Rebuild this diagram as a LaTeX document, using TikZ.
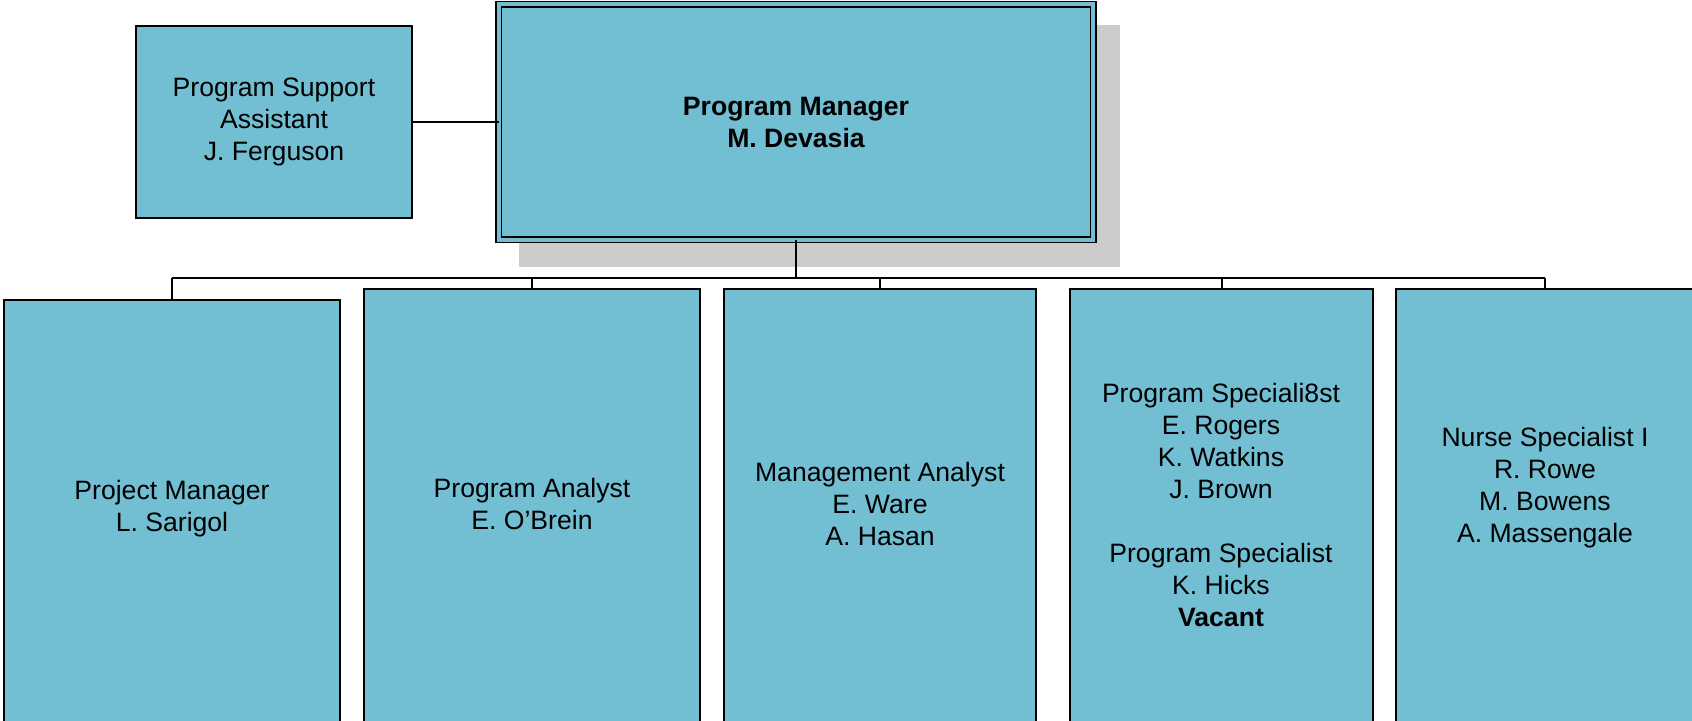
\documentclass[tikz,border=0pt]{standalone}
\usepackage{fontspec}
\setmainfont{Liberation Sans}
\definecolor{boxfill}{RGB}{114,190,211}
\definecolor{shadowgray}{RGB}{204,204,204}
\begin{document}
\begin{tikzpicture}[x=0.5pt,y=-0.5pt,
  box/.style={draw=black, line width=1pt, fill=boxfill, anchor=north west, inner sep=0pt, outer sep=0pt},
  lbl/.style={align=center, font=\fontsize{13.3}{16}\selectfont, inner sep=0pt},
  conn/.style={draw=black, line width=1pt}]
\useasboundingbox (0,0) rectangle (1692,721);
\clip (0,0) rectangle (1692,721);
% shadow of the top box
\fill[shadowgray] (519,25) rectangle (1120,267);
% top box
\node[draw=black, line width=0.9pt, double=boxfill, double distance=1.85pt, fill=boxfill,
      minimum width=297.25pt, minimum height=117.75pt, inner sep=0pt, outer sep=0pt,
      lbl, font=\fontsize{13.3}{16}\selectfont\bfseries] (pm) at (796,122) {Program Manager\\M. Devasia};
% support assistant
\node[box, anchor=center, minimum width=138pt, minimum height=96pt, lbl] (psa) at (274,122) {Program Support\\Assistant\\J. Ferguson};
% bottom boxes
\node[box, minimum width=168pt, minimum height=215pt] (b1) at (4,300) {};
\node[box, minimum width=168pt, minimum height=220pt] (b2) at (364,289) {};
\node[box, minimum width=156pt, minimum height=220pt] (b3) at (724,289) {};
\node[box, minimum width=151.5pt, minimum height=220pt] (b4) at (1070,289) {};
\node[box, minimum width=149pt, minimum height=220pt] (b5) at (1396,289) {};
% labels
\node[lbl] (t1) at (172,509) {Project Manager\\L. Sarigol};
\node[lbl] (t2) at (532,504) {Program Analyst\\E. O’Brein};
\node[lbl] (t3) at (880,504) {Management Analyst\\E. Ware\\A. Hasan};
\node[lbl] (t4) at (1221,505) {Program Speciali8st\\E. Rogers\\K. Watkins\\J. Brown\\[16pt]Program Specialist\\K. Hicks\\\textbf{Vacant}};
\node[lbl] (t5) at (1545,488) {Nurse Specialist I\\R. Rowe\\M. Bowens\\A. Massengale};
% connectors
\coordinate (busL) at (172,278);
\coordinate (busR) at (1545,278);
\draw[conn] (psa.east) -- (pm.west);
\draw[conn] (busL) -- (busR);
\draw[conn] (pm.south) -- (pm.south |- busL);
\foreach \b in {b1,b2,b3,b4,b5} {
  \draw[conn] (\b.north) -- (\b.north |- busL);
}
\end{tikzpicture}
\end{document}
